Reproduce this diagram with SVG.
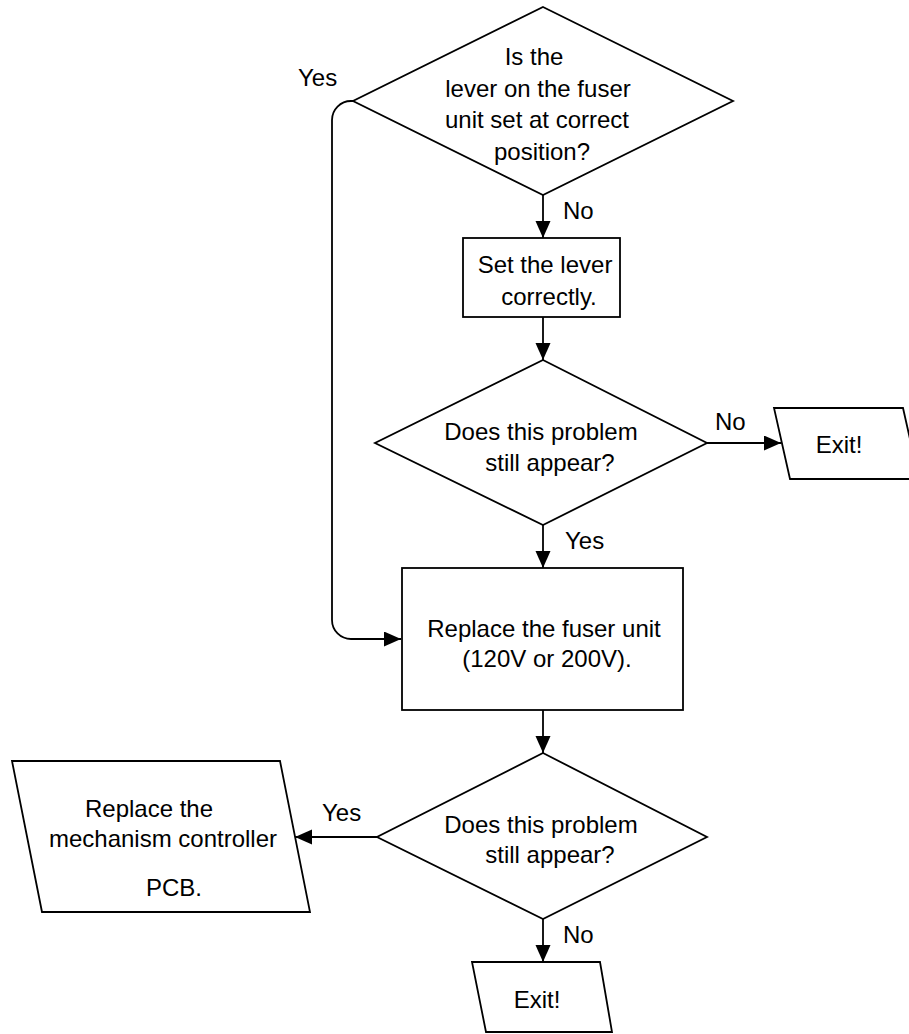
<svg xmlns="http://www.w3.org/2000/svg" width="909" height="1034" viewBox="0 0 909 1034">
<style>
.s{fill:#fff;stroke:#000;stroke-width:1.8}
.c{fill:none;stroke:#000;stroke-width:1.8}
text{font-family:"Liberation Sans",Arial,sans-serif;font-size:24px;fill:#000}
.m{text-anchor:middle}
</style>
<defs>
<marker id="ah" markerUnits="userSpaceOnUse" markerWidth="18" markerHeight="16" refX="17" refY="7.5" orient="auto">
<path d="M0,0 L17,7.5 L0,15 z" fill="#000"/>
</marker>
</defs>
<rect width="909" height="1034" fill="#fff"/>
<g id="connectors">
<path class="c" d="M543,195 V238" marker-end="url(#ah)"/>
<path class="c" d="M543,317 V360" marker-end="url(#ah)"/>
<path class="c" d="M707,443 H781" marker-end="url(#ah)"/>
<path class="c" d="M543,525 V568" marker-end="url(#ah)"/>
<path class="c" d="M353,101 H351 A19,19 0 0 0 332,120 V620 A19,19 0 0 0 351,639 H401" marker-end="url(#ah)"/>
<path class="c" d="M543,710 V753" marker-end="url(#ah)"/>
<path class="c" d="M377,837 H295" marker-end="url(#ah)"/>
<path class="c" d="M543,919 V962" marker-end="url(#ah)"/>
<text x="298" y="86">Yes</text>
<text x="563" y="219">No</text>
<text x="715" y="430">No</text>
<text x="565" y="549">Yes</text>
<text x="322" y="821">Yes</text>
<text x="563" y="943">No</text>
</g>
<g id="q1">
<polygon class="s" points="543,7 733,101 543,195 353,101"/>
<text class="m" x="534" y="65">Is the</text>
<text class="m" x="538" y="97">lever on the fuser</text>
<text class="m" x="537" y="128">unit set at correct</text>
<text class="m" x="542" y="160">position?</text>
</g>
<g id="set-lever">
<rect class="s" x="463" y="238" width="157" height="79"/>
<text class="m" x="545" y="273">Set the lever</text>
<text class="m" x="549" y="305">correctly.</text>
</g>
<g id="q2">
<polygon class="s" points="543,360 707,443 543,525 375,443"/>
<text class="m" x="541" y="440">Does this problem</text>
<text class="m" x="550" y="471">still appear?</text>
</g>
<g id="exit1">
<polygon class="s" points="774,408 903,408 919,479 790,479"/>
<text class="m" x="839" y="453">Exit!</text>
</g>
<g id="replace-fuser">
<rect class="s" x="402" y="568" width="281" height="142"/>
<text class="m" x="544" y="637">Replace the fuser unit</text>
<text class="m" x="547" y="667">(120V or 200V).</text>
</g>
<g id="q3">
<polygon class="s" points="543,753 707,837 543,919 377,837"/>
<text class="m" x="541" y="833">Does this problem</text>
<text class="m" x="550" y="863">still appear?</text>
</g>
<g id="replace-pcb">
<polygon class="s" points="12,761 280,761 310,912 42,912"/>
<text class="m" x="149" y="817">Replace the</text>
<text class="m" x="163" y="847">mechanism controller</text>
<text class="m" x="174" y="896">PCB.</text>
</g>
<g id="exit2">
<polygon class="s" points="472,962 600,962 612,1032 486,1032"/>
<text class="m" x="537" y="1008">Exit!</text>
</g>
</svg>
